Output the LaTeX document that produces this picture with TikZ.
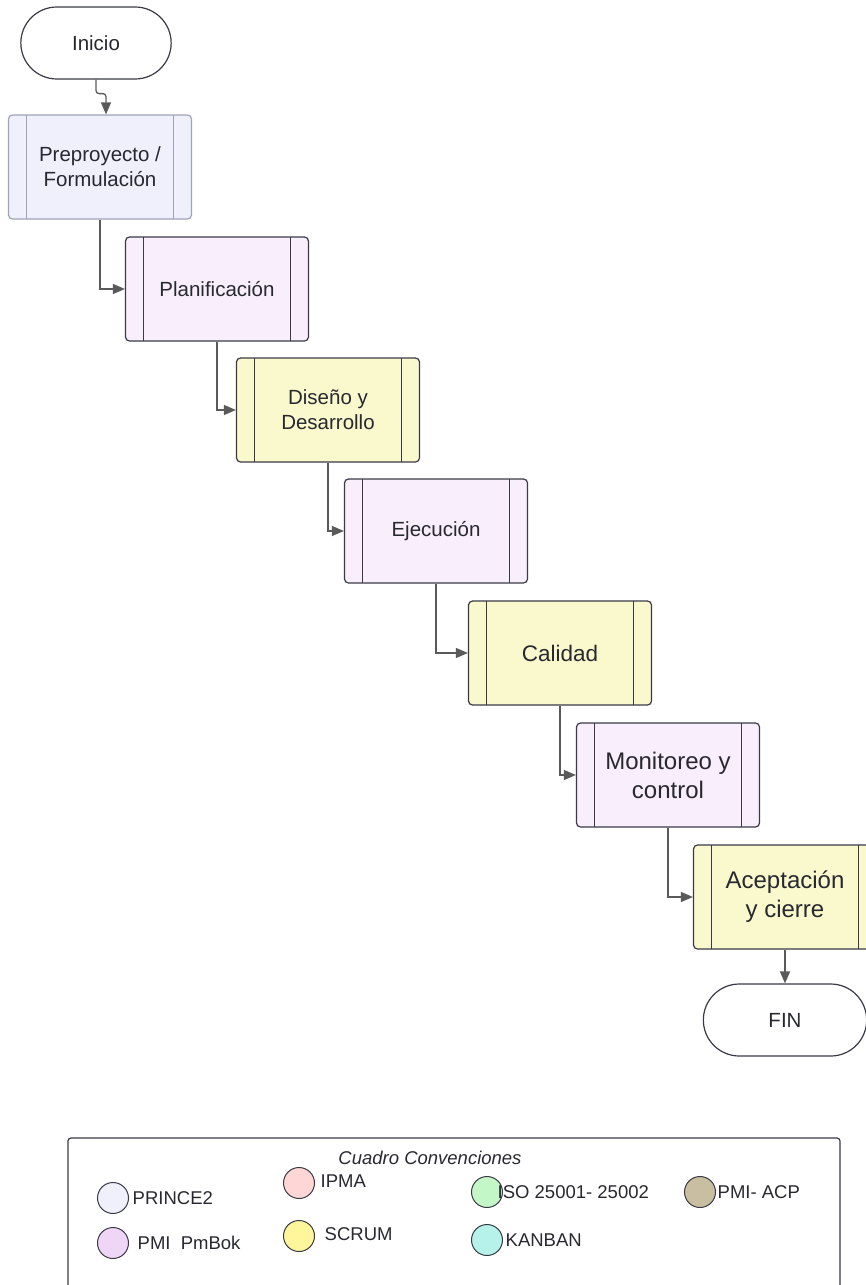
\documentclass[tikz,border=0pt]{standalone}
\usepackage{fontspec}
\setmainfont{Liberation Sans}
\usetikzlibrary{positioning,arrows.meta,shapes.misc}
\definecolor{flowgray}{RGB}{90,90,90}
\definecolor{boxline}{RGB}{58,58,70}
\definecolor{princeline}{RGB}{158,163,181}
\definecolor{princefill}{RGB}{240,240,252}
\definecolor{pmbokfill}{RGB}{249,238,251}
\definecolor{scrumfill}{RGB}{250,249,205}
\definecolor{ipmafill}{RGB}{255,214,214}
\definecolor{isofill}{RGB}{195,247,200}
\definecolor{acpfill}{RGB}{201,191,160}
\definecolor{pmbokdot}{RGB}{239,214,247}
\definecolor{scrumdot}{RGB}{255,245,155}
\definecolor{kanbanfill}{RGB}{182,242,234}
\definecolor{textdark}{RGB}{40,40,48}

\begin{document}
\begin{tikzpicture}[x=1pt,y=-1pt,
  flow/.style={-{Triangle[length=12pt,width=10pt]},draw=flowgray,line width=1.3pt},
  terminal/.style={rounded rectangle,draw=boxline,line width=1.2pt,fill=white,
    minimum height=72pt,text=textdark,font=\fontsize{20.5}{24}\selectfont},
  proc/.style={rectangle,rounded corners=4pt,draw=#1,line width=1.2pt,
    minimum width=183pt,minimum height=104pt,align=center,text=textdark,
    path picture={
      \draw[#1,line width=1.2pt] ([xshift=18pt]path picture bounding box.north west) -- ([xshift=18pt]path picture bounding box.south west);
      \draw[#1,line width=1.2pt] ([xshift=-18pt]path picture bounding box.north east) -- ([xshift=-18pt]path picture bounding box.south east);}},
  small text/.style={font=\fontsize{20.5}{25}\selectfont},
  mid text/.style={font=\fontsize{22.5}{29}\selectfont},
  big text/.style={font=\fontsize{24}{29}\selectfont},
  dot/.style={circle,draw=boxline,line width=1pt,minimum size=31pt,inner sep=0pt},
  key lab/.style={font=\fontsize{18.5}{22}\selectfont,text=textdark,inner sep=1.5pt}
]
\useasboundingbox (0,0) rectangle (866,1285);

% Start and end
\node[terminal,minimum width=157pt] (ini) at (96,43) {Inicio};
\node[terminal,minimum width=170pt] (fin) at (785,1020) {FIN};

% Phases
\node[proc=princeline,fill=princefill,small text] (pre) at (100,167) {Preproyecto /\\Formulación};
\node[proc=boxline,fill=pmbokfill,small text] (plan) at (217,289) {Planificación};
\node[proc=boxline,fill=scrumfill,small text] (dis) at (328,410) {Diseño y\\Desarrollo};
\node[proc=boxline,fill=pmbokfill,small text] (eje) at (436,531) {Ejecución};
\node[proc=boxline,fill=scrumfill,mid text] (cal) at (560,653) {Calidad};
\node[proc=boxline,fill=pmbokfill,big text] (mon) at (668,775) {Monitoreo y\\control};
\node[proc=boxline,fill=scrumfill,big text] (ace) at (785,897) {Aceptación\\y cierre};

% Connectors
\draw[flow,rounded corners=3pt] (ini.south) -- ++(0,14) -| ([xshift=6pt]pre.north);
\draw[flow] (pre.south) |- (plan.west);
\draw[flow] (plan.south) |- (dis.west);
\draw[flow] (dis.south) |- (eje.west);
\draw[flow] (eje.south) |- (cal.west);
\draw[flow] (cal.south) |- (mon.west);
\draw[flow] (mon.south) |- (ace.west);
\draw[flow] (ace.south) -- (fin.north);

% Conventions
\draw[boxline,line width=1.2pt,rounded corners=3pt] (68,1300) |- (840,1138) -- (840,1300);
\node[key lab,font=\fontsize{18.5}{22}\selectfont\itshape] (keytitle) at (430,1158) {Cuadro Convenciones};

\node[dot,fill=princefill] (d1) at (113,1198) {};
\node[key lab,right=2pt of d1] (l1) {PRINCE2};
\node[dot,fill=pmbokdot] (d2) at (113,1243) {};
\node[key lab,right=7pt of d2] (l2) {PMI\ \ PmBok};
\node[dot,fill=ipmafill] (d3) at (299,1183) {};
\node[key lab,right=4pt of d3,yshift=2pt] (l3) {IPMA};
\node[dot,fill=scrumdot] (d4) at (299,1236) {};
\node[key lab,right=8pt of d4,yshift=2pt] (l4) {SCRUM};
\node[dot,fill=isofill] (d5) at (487,1192) {};
\node[key lab,right=-7pt of d5] (l5) {ISO 25001- 25002};
\node[dot,fill=kanbanfill] (d6) at (487,1240) {};
\node[key lab,right=1pt of d6] (l6) {KANBAN};
\node[dot,fill=acpfill] (d7) at (700,1192) {};
\node[key lab,right=0pt of d7] (l7) {PMI- ACP};
\end{tikzpicture}
\end{document}
